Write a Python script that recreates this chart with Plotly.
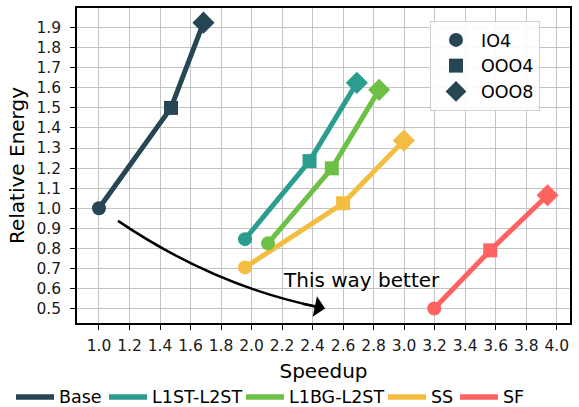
import plotly.graph_objects as go

series_names = ["Base", "L1ST-L2ST", "L1BG-L2ST", "SS", "SF"]
speedup = {
    "Base": [1.0, 1.472, 1.685],
    "L1ST-L2ST": [1.957, 2.38, 2.69],
    "L1BG-L2ST": [2.108, 2.526, 2.836],
    "SS": [1.957, 2.60, 2.998],
    "SF": [3.197, 3.564, 3.94],
}
energy = {
    "Base": [1.0, 1.50, 1.925],
    "L1ST-L2ST": [0.846, 1.235, 1.625],
    "L1BG-L2ST": [0.825, 1.199, 1.59],
    "SS": [0.705, 1.025, 1.337],
    "SF": [0.50, 0.79, 1.065],
}
colors = {
    "Base": "#264653",
    "L1ST-L2ST": "#2a9d8f",
    "L1BG-L2ST": "#6cc046",
    "SS": "#f3bd42",
    "SF": "#ff6361",
}
configs = ["IO4", "OOO4", "OOO8"]
symbols = ["circle", "square", "diamond"]
sizes = [14, 14, 17]

x_ticks = [1.0, 1.2, 1.4, 1.6, 1.8, 2.0, 2.2, 2.4, 2.6, 2.8, 3.0, 3.2, 3.4, 3.6, 3.8, 4.0]
y_ticks = [0.5, 0.6, 0.7, 0.8, 0.9, 1.0, 1.1, 1.2, 1.3, 1.4, 1.5, 1.6, 1.7, 1.8, 1.9]

FONT = "DejaVu Sans"
W, H = 579, 407
ML, MR, MT, MB = 77, 9, 8, 84
PW, PH = W - ML - MR, H - MT - MB


def px_to_paper(px, py):
    return (px - ML) / PW, (H - MB - py) / PH


fig = go.Figure()

for name in series_names:
    fig.add_trace(go.Scatter(
        x=speedup[name], y=energy[name], mode="lines", name=name,
        line=dict(color=colors[name], width=5), showlegend=False,
    ))
for name in series_names:
    fig.add_trace(go.Scatter(
        x=speedup[name], y=energy[name], mode="markers", name=name,
        marker=dict(symbol=symbols, size=sizes, color=colors[name], opacity=1,
                    line=dict(width=0)),
        showlegend=False,
    ))

for cfg, sym, sz in zip(configs, symbols, sizes):
    fig.add_trace(go.Scatter(
        x=[None], y=[None], mode="markers", name=cfg,
        marker=dict(symbol=sym, size=sz, color="#264653", opacity=1),
        legend="legend2", legendgroup=cfg,
    ))

# bottom legend (line handles + labels), laid out in pixel positions
legend_starts = [16, 109, 246, 388, 460]
legend_y = 397
handle_len = 38
for name, sx in zip(series_names, legend_starts):
    x0, y0 = px_to_paper(sx, legend_y)
    x1, _ = px_to_paper(sx + handle_len, legend_y)
    fig.add_shape(type="line", xref="paper", yref="paper", x0=x0, x1=x1, y0=y0, y1=y0,
                  line=dict(color=colors[name], width=5.5))
    tx, ty = px_to_paper(sx + handle_len + 3, legend_y)
    fig.add_annotation(xref="paper", yref="paper", x=tx, y=ty, text=name,
                       xanchor="left", yanchor="middle", showarrow=False,
                       font=dict(family=FONT, size=17.5, color="black"))

# curved arrow "This way better"
p0 = (1.125, 0.937)
ctrl = (1.747, 0.617)
p2 = (2.482, 0.50)
fig.add_shape(type="path",
              path=f"M {p0[0]},{p0[1]} Q {ctrl[0]},{ctrl[1]} {p2[0]-0.06},{p2[1]+0.01}",
              line=dict(color="black", width=2.5), xref="x", yref="y")
fig.add_annotation(x=p2[0], y=p2[1], ax=-24, ay=-5, xref="x", yref="y",
                   showarrow=True, arrowhead=1, arrowwidth=2.5, arrowsize=1.4,
                   arrowcolor="black", text="", standoff=0)
fig.add_annotation(x=2.718, y=0.64, text="This way better", showarrow=False,
                   font=dict(family=FONT, size=20, color="black"))

axis_common = dict(
    showgrid=True, gridcolor="#c4c4c4", gridwidth=1,
    showline=True, linecolor="black", linewidth=1.5, mirror=True,
    ticks="outside", ticklen=5, tickwidth=1.2, tickcolor="black",
    tickfont=dict(family=FONT, size=15.5, color="#1a1a1a"),
    zeroline=False, automargin=False,
)
fig.update_xaxes(range=[0.856, 4.087], tickvals=x_ticks,
                 ticktext=[f"{v:.1f}" for v in x_ticks],
                 ticklabelstandoff=3,
                 title=dict(text="Speedup", font=dict(family=FONT, size=20, color="black"), standoff=10),
                 **axis_common)
fig.update_yaxes(range=[0.428, 1.998], tickvals=y_ticks,
                 ticktext=[f"{v:.1f}" for v in y_ticks],
                 ticklabelstandoff=6,
                 title=dict(text="Relative Energy", font=dict(family=FONT, size=20, color="black"), standoff=6),
                 **axis_common)

lx, ly = px_to_paper(540, 21)
fig.update_layout(
    width=W, height=H,
    margin=dict(l=ML, r=MR, t=MT, b=MB, autoexpand=False),
    plot_bgcolor="white", paper_bgcolor="white",
    font=dict(family=FONT, color="black"),
    showlegend=True,
    legend2=dict(x=lx, xanchor="right", y=ly, yanchor="top",
                 font=dict(family=FONT, size=17.5, color="black"),
                 bgcolor="rgba(255,255,255,0.9)", bordercolor="#d0d0d0", borderwidth=1,
                 tracegroupgap=0, itemwidth=40),
)

fig.write_html("out.html", config={"displayModeBar": False},
               post_script="document.body.style.margin='0';")
